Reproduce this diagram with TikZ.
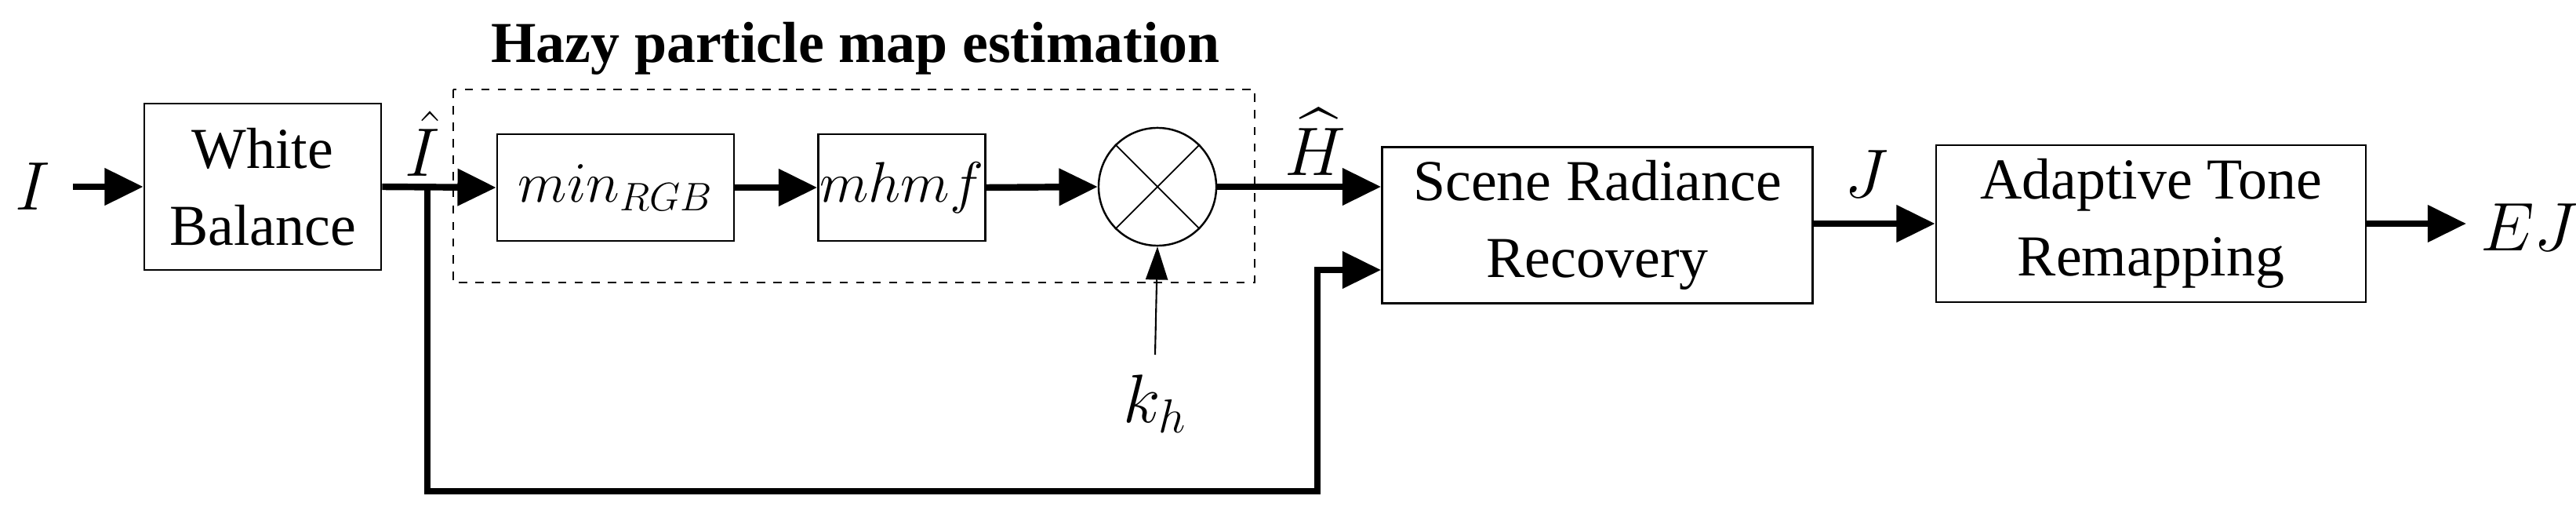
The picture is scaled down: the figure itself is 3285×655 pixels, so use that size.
\documentclass[tikz,border=0pt]{standalone}
\usepackage{amsmath}
\usepackage{fontspec}
\setmainfont{Liberation Serif}
\usetikzlibrary{arrows.meta,positioning}

\begin{document}
\begin{tikzpicture}[x=0.01cm, y=-0.01cm,
    block/.style={draw, line width=0.7pt, inner sep=0pt, font=\fontsize{21}{28}\selectfont, align=center},
    sig/.style={line width=2.4pt, -{Triangle[length=14pt,width=13pt]}},
    thin sig/.style={line width=0.6pt, -{Triangle[length=12pt,width=8pt]}},
    lbl/.style={font=\fontsize{23}{28}\selectfont}]
    \useasboundingbox (0,0) rectangle (3285,655);

    % blocks
    \node[block, minimum width=3.02cm, minimum height=2.12cm] (wb) at (335,238) {White\\Balance};
    \node[block, minimum width=3.02cm, minimum height=1.36cm, font=\fontsize{20}{24}\selectfont] (minrgb) at (785,239) {$min_{RGB}$};
    \node[block, minimum width=2.13cm, minimum height=1.36cm, font=\fontsize{20}{24}\selectfont] (mhmf) at (1150,239) {$mhmf$};
    \node[draw, line width=0.7pt, circle, minimum size=1.5cm, inner sep=0pt] (mul) at (1476,238) {};
    \draw[line width=0.5pt] (mul.north west) -- (mul.south east) (mul.north east) -- (mul.south west);
    \node[block, minimum width=5.49cm, minimum height=1.99cm] (srr) at (2037,287) {Scene Radiance\\Recovery};
    \node[block, minimum width=5.48cm, minimum height=2.0cm] (atr) at (2743,285) {Adaptive Tone\\Remapping};

    % dashed group
    \draw[dashed, line width=0.6pt] (578,114) rectangle (1600,360);
    \node[font=\bfseries\fontsize{21}{26}\selectfont] (title) at (1091,62) {Hazy particle map estimation};

    % labels
    \node[lbl] (in) at (42,238) {$I$};
    \node[lbl] (ihat) at (539,183) {$\hat{I}$};
    \node[lbl] (hhat) at (1677,181) {$\widehat{H}$};
    \node[lbl] (kh) at (1473,515) {$k_h$};
    \node[lbl] (j) at (2380,222) {$J$};
    \node[lbl] (ej) at (3225,290) {$EJ$};
    \coordinate (br) at (545,238);

    % connectors
    \draw[sig] (93,238) -- (wb.west);
    \draw[sig] (wb.east) -- (minrgb.west);
    \draw[sig] (minrgb.east) -- (mhmf.west);
    \draw[sig] (mhmf.east) -- (mul.west);
    \draw[sig] (mul.east) -- (mul.east -| srr.west);
    \draw[sig] (br) -- (545,626) -| (1680,344) -- (1680,344 -| srr.west);
    \draw[thin sig] (1473,452) -- (mul.south);
    \draw[sig] (srr.east |- atr.west) -- (atr.west);
    \draw[sig] (atr.east) -- (3145,285);
\end{tikzpicture}
\end{document}
